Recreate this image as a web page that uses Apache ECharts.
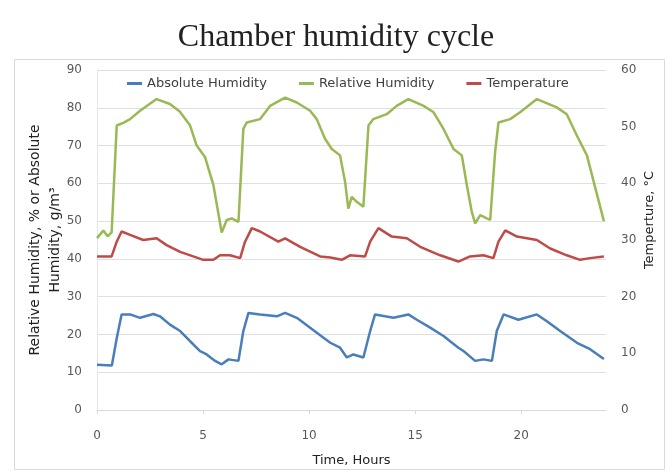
<!DOCTYPE html>
<html>
<head>
<meta charset="utf-8">
<script src="https://cdn.jsdelivr.net/npm/echarts@6/dist/echarts.min.js"></script>
<style>html,body{margin:0;padding:0;background:#fff}#c{width:672px;height:472px}</style>
</head>
<body>
<div id="c"></div>
<script>
// Absolute humidity (g/m3) on left axis
const ahHours = [0, 0.7, 0.93, 1.16, 1.56, 2.03, 2.66, 2.97, 3.44, 3.92, 4.39, 4.86, 5.17, 5.57, 5.88, 6.2, 6.67, 6.9, 7.14, 7.69, 8.48, 8.87, 9.42, 10.05, 10.68, 11.0, 11.46, 11.78, 12.09, 12.56, 12.88, 13.11, 13.58, 13.98, 14.68, 15.08, 15.71, 16.34, 16.65, 17.04, 17.28, 17.83, 18.22, 18.62, 18.85, 19.17, 19.87, 20.74, 21.21, 21.84, 22.63, 23.25, 23.9];
const ahValues = [12, 11.8, 19, 25.3, 25.3, 24.4, 25.4, 24.8, 22.6, 20.9, 18.2, 15.6, 14.7, 13, 12.1, 13.4, 13, 20.9, 25.7, 25.3, 24.8, 25.7, 24.4, 21.8, 19.1, 17.8, 16.5, 13.9, 14.7, 13.9, 20.9, 25.3, 24.8, 24.4, 25.3, 23.9, 21.8, 19.6, 18.2, 16.5, 15.6, 13, 13.4, 13, 20.9, 25.3, 23.9, 25.3, 23.5, 20.9, 17.8, 16.1, 13.5];

// Relative humidity (%) on left axis
const rhHours = [0, 0.3, 0.5, 0.69, 0.93, 1.24, 1.56, 2.03, 2.81, 3.44, 3.9, 4.39, 4.7, 5.09, 5.49, 5.88, 6.12, 6.35, 6.67, 6.9, 7.06, 7.69, 8.16, 8.87, 9.42, 10.05, 10.36, 10.75, 11.07, 11.46, 11.7, 11.85, 12.01, 12.25, 12.56, 12.8, 13.03, 13.66, 14.13, 14.68, 15.4, 15.87, 16.34, 16.81, 17.2, 17.44, 17.67, 17.83, 18.07, 18.38, 18.54, 18.77, 18.93, 19.48, 19.95, 20.74, 21.68, 22.15, 22.63, 23.1, 23.9];
const rhValues = [45.5, 47.5, 46, 47, 75.3, 76, 77, 79.2, 82.3, 81, 79, 75.3, 70, 67, 59.5, 47, 50.3, 50.7, 49.8, 74.4, 76.1, 77, 80.5, 82.7, 81.4, 79.2, 77, 71.8, 69.1, 67.4, 60.3, 53.3, 56.4, 55.1, 53.8, 75.3, 77, 78.3, 80.5, 82.3, 80.5, 78.8, 74.4, 69.1, 67.4, 59.5, 52.5, 49.4, 51.6, 50.7, 50.3, 68.2, 76.1, 77, 78.8, 82.3, 80.1, 78.3, 72.6, 67.4, 50];

// Temperature (°C) on right axis
const tHours = [0, 0.69, 0.93, 1.16, 1.56, 2.18, 2.81, 3.28, 3.92, 4.54, 5.01, 5.49, 5.8, 6.27, 6.75, 6.98, 7.3, 7.69, 8.55, 8.87, 9.58, 10.52, 11.0, 11.54, 11.93, 12.64, 12.88, 13.27, 13.9, 14.61, 15.24, 16.18, 17.04, 17.59, 18.22, 18.69, 18.93, 19.25, 19.8, 20.74, 21.37, 22.15, 22.78, 23.25, 23.9];
const tValues = [27.1, 27.1, 29.7, 31.5, 30.9, 30.0, 30.3, 29.1, 27.9, 27.1, 26.5, 26.5, 27.3, 27.3, 26.8, 29.7, 32.1, 31.5, 29.7, 30.3, 28.8, 27.1, 26.9, 26.5, 27.3, 27.1, 29.7, 32.1, 30.6, 30.3, 28.8, 27.3, 26.2, 27.1, 27.3, 26.8, 29.7, 31.7, 30.6, 30.0, 28.5, 27.3, 26.5, 26.8, 27.1];

const xTicks = [0, 5, 10, 15, 20];
const leftTicks = [0, 10, 20, 30, 40, 50, 60, 70, 80, 90];
const rightTicks = [0, 10, 20, 30, 40, 50, 60];

const zip = (a, b) => a.map((x, i) => [x, b[i]]);
const font = 'DejaVu Sans';
const chart = echarts.init(document.getElementById('c'), null, {renderer: 'canvas'});
chart.setOption({
  animation: false,
  backgroundColor: '#fff',
  title: {
    text: 'Chamber humidity cycle', left: 'center', top: 17,
    textStyle: {fontFamily: 'Liberation Serif', fontSize: 32, fontWeight: 'normal', color: '#222'}
  },
  graphic: [{type: 'rect', left: 12, top: 57, shape: {width: 650, height: 410}, style: {fill: 'none', stroke: '#d9d9d9', lineWidth: 1}, silent: true}],
  legend: {
    top: 72, left: 122, itemGap: 32, itemWidth: 15, itemHeight: 3, icon: 'rect',
    textStyle: {fontFamily: font, fontSize: 13, color: '#404040'},
    data: ['Absolute Humidity', 'Relative Humidity', 'Temperature']
  },
  grid: {left: 97, right: 66, top: 70, bottom: 61},
  xAxis: {
    type: 'value', min: 0, max: 24, interval: 5,
    name: 'Time, Hours', nameLocation: 'middle', nameGap: 44, nameMoveOverlap: false,
    nameTextStyle: {fontFamily: font, fontSize: 13, color: '#222'},
    axisLine: {show: true, lineStyle: {color: '#d9d9d9'}},
    axisTick: {show: true, length: 4, lineStyle: {color: '#d9d9d9'}},
    axisLabel: {fontFamily: font, fontSize: 12, color: '#595959', margin: 20, showMaxLabel: false,
      formatter: v => xTicks.includes(v) ? String(v) : ''},
    splitLine: {show: false}
  },
  yAxis: [{
    type: 'value', min: 0, max: 90, interval: 10, position: 'left',
    name: 'Relative Humidity, % or Absolute\nHumidity, g/m\u00b3', nameLocation: 'middle', nameGap: 32, nameMoveOverlap: false,
    nameTextStyle: {fontFamily: font, fontSize: 14, color: '#222', lineHeight: 20},
    axisLine: {show: true, lineStyle: {color: '#e6e6e6'}},
    axisTick: {show: false},
    axisLabel: {fontFamily: font, fontSize: 12, color: '#595959', margin: 15,
      formatter: v => leftTicks.includes(v) ? String(v) : ''},
    splitLine: {show: true, lineStyle: {color: '#e0e0e0'}}
  }, {
    type: 'value', min: 0, max: 60, interval: 10, position: 'right',
    name: 'Temperture, \u00b0C', nameLocation: 'middle', nameGap: 37, nameRotate: 90, nameMoveOverlap: false,
    nameTextStyle: {fontFamily: font, fontSize: 13, color: '#222', padding: [0, 0, 0, 40]},
    axisLine: {show: false},
    axisTick: {show: false},
    axisLabel: {fontFamily: font, fontSize: 12, color: '#595959', margin: 15,
      formatter: v => rightTicks.includes(v) ? String(v) : ''},
    splitLine: {show: false}
  }],
  series: [
    {name: 'Absolute Humidity', type: 'line', yAxisIndex: 0, showSymbol: false, data: zip(ahHours, ahValues),
      lineStyle: {color: '#4a7ebb', width: 2.5}, itemStyle: {color: '#4a7ebb'}},
    {name: 'Relative Humidity', type: 'line', yAxisIndex: 0, showSymbol: false, data: zip(rhHours, rhValues),
      lineStyle: {color: '#98b954', width: 2.5}, itemStyle: {color: '#98b954'}},
    {name: 'Temperature', type: 'line', yAxisIndex: 1, showSymbol: false, data: zip(tHours, tValues),
      lineStyle: {color: '#be4b48', width: 2.5}, itemStyle: {color: '#be4b48'}}
  ]
});
</script>
</body>
</html>
